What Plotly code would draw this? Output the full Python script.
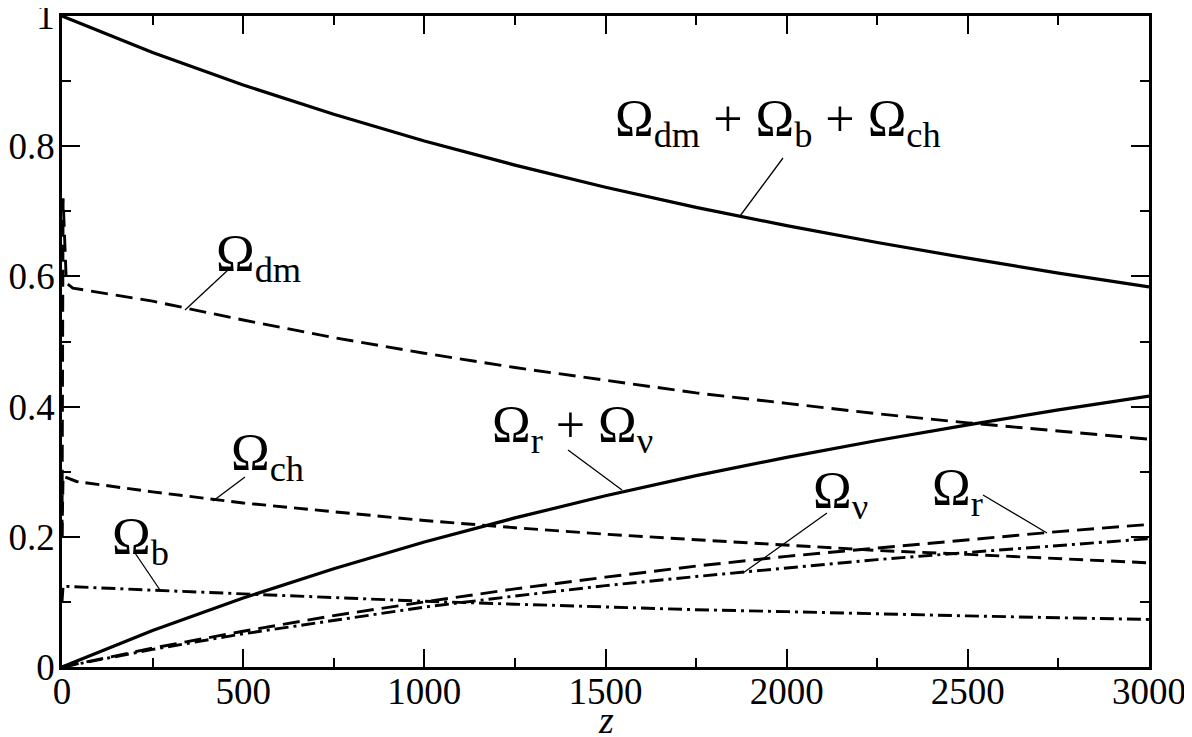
import plotly.graph_objects as go

# z grid (read every 250 along the curves, plus a few points right at z ~ 0)
z = [0, 250, 500, 750, 1000, 1250, 1500, 1750, 2000, 2250, 2500, 2750, 3000]

matter_total = [1.0, 0.944, 0.894, 0.849, 0.808, 0.771, 0.737, 0.706, 0.678, 0.652, 0.628, 0.605, 0.584]
rad_total = [0.0, 0.056, 0.106, 0.151, 0.192, 0.229, 0.263, 0.294, 0.322, 0.348, 0.372, 0.395, 0.416]

z_dm = [0, 3, 12, 30, 250, 500, 750, 1000, 1250, 1500, 1750, 2000, 2250, 2500, 2750, 3000]
omega_dm = [0.2, 0.72, 0.59, 0.582, 0.562, 0.533, 0.506, 0.482, 0.460, 0.440, 0.421, 0.405, 0.389, 0.375, 0.362, 0.350]

z_ch = [0, 3, 40, 250, 500, 750, 1000, 1250, 1500, 1750, 2000, 2250, 2500, 2750, 3000]
omega_ch = [0.2, 0.293, 0.285, 0.269, 0.252, 0.238, 0.225, 0.214, 0.204, 0.1955, 0.187, 0.179, 0.173, 0.166, 0.160]

z_b = [0, 3, 250, 500, 750, 1000, 1250, 1500, 1750, 2000, 2250, 2500, 2750, 3000]
omega_b = [0.1, 0.124, 0.118, 0.112, 0.106, 0.101, 0.0965, 0.092, 0.088, 0.085, 0.0815, 0.0785, 0.0757, 0.073]

omega_r = [0.0, 0.029, 0.055, 0.079, 0.100, 0.120, 0.138, 0.155, 0.170, 0.183, 0.196, 0.208, 0.219]
omega_nu = [0.0, 0.027, 0.051, 0.072, 0.092, 0.109, 0.125, 0.139, 0.152, 0.165, 0.176, 0.187, 0.197]

x_ticks = [0, 500, 1000, 1500, 2000, 2500, 3000]
y_ticks = [0, 0.2, 0.4, 0.6, 0.8, 1]
y_ticktext = ["0", "0.2", "0.4", "0.6", "0.8", "1"]

# plot area in window pixels (page body has an 8px margin)
OFF = 8
W, H = 1192 - 2 * OFF, 737 - OFF
L, R, T, B = 62, 1149, 16, 667


def px(xp, yp):
    return (xp - L) / (R - L) * 3000, (B - yp) / (B - T)


fig = go.Figure()

def add(x, y, dash, w=2.9):
    fig.add_trace(go.Scatter(x=x, y=y, mode="lines", line=dict(color="black", width=w, dash=dash),
                             showlegend=False, hoverinfo="skip"))

add(z, matter_total, "solid", 3.2)
add(z, rad_total, "solid", 3.2)
add(z_dm, omega_dm, "17px,8px")
add(z_ch, omega_ch, "14px,7px")
add(z_b, omega_b, "14px,5px,3px,5px")
add(z, omega_r, "17px,8px")
add(z, omega_nu, "14px,5px,3px,5px")

# labels: (text, centre px)
labels = [
    ("Ω<sub>dm</sub> + Ω<sub>b</sub> + Ω<sub>ch</sub>", 778, 122),
    ("Ω<sub>dm</sub>", 258, 257),
    ("Ω<sub>ch</sub>", 267, 456),
    ("Ω<sub>r</sub> + Ω<sub>ν</sub>", 572, 428),
    ("Ω<sub>b</sub>", 140, 540),
    ("Ω<sub>ν</sub>", 840, 494),
    ("Ω<sub>r</sub>", 957, 491),
]
for text, xp, yp in labels:
    ax_, ay_ = px(xp, yp)
    fig.add_annotation(x=ax_, y=ay_, text=text, showarrow=False, xanchor="center", yanchor="middle",
                       font=dict(family="Liberation Serif", size=52, color="black"))

# pointer lines from labels to curves
pointers = [
    ((783, 158), (740, 216)),
    ((228, 270), (185, 310)),
    ((245, 477), (213, 501)),
    ((568, 450), (622, 490)),
    ((135, 553), (160, 590)),
    ((827, 513), (743, 573)),
    ((983, 495), (1047, 533)),
]
for (x0p, y0p), (x1p, y1p) in pointers:
    x0, y0 = px(x0p, y0p)
    x1, y1 = px(x1p, y1p)
    fig.add_shape(type="line", x0=x0, y0=y0, x1=x1, y1=y1, line=dict(color="black", width=1.3))

fig.add_annotation(xref="paper", yref="paper", x=(606 - L) / (R - L), y=-(720 - B) / (B - T),
                   text="<i>z</i>", showarrow=False, xanchor="center", yanchor="middle",
                   font=dict(family="Liberation Serif", size=38, color="black"))

axis_style = dict(showline=True, linecolor="black", linewidth=2.5, mirror="ticks", ticks="inside",
                  ticklen=18, tickwidth=1.5, tickcolor="black", showgrid=False, zeroline=False,
                  automargin=False, ticklabeloverflow="allow",
                  tickfont=dict(family="Liberation Serif", size=37, color="black"))

fig.update_xaxes(range=[0, 3000], tickvals=x_ticks, ticklabelstandoff=-10,
                 minor=dict(dtick=250, tick0=0, ticks="inside", ticklen=9, tickwidth=1.5, tickcolor="black"),
                 **axis_style)
fig.update_yaxes(range=[0, 1], tickvals=y_ticks, ticktext=y_ticktext, ticklabelstandoff=-3,
                 minor=dict(dtick=0.1, tick0=0, ticks="inside", ticklen=9, tickwidth=1.5, tickcolor="black"),
                 **axis_style)

fig.update_layout(width=W, height=H,
                  margin=dict(l=L - OFF, r=1192 - OFF - R, t=T - OFF, b=H + OFF - B),
                  plot_bgcolor="white", paper_bgcolor="white")

fig.write_html("out.html")
